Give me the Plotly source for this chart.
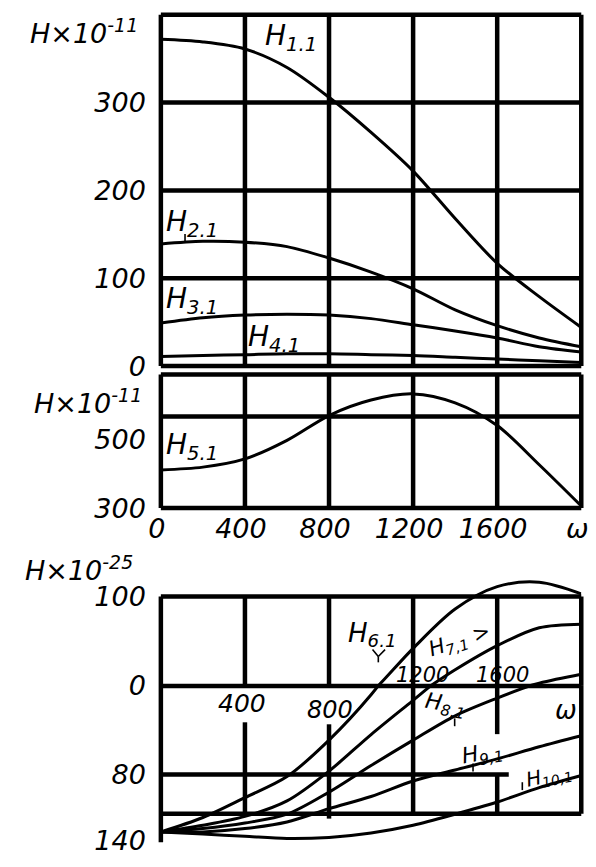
import plotly.graph_objects as go

# ---------------- data ----------------
omega = [0, 200, 400, 600, 800, 1000, 1200, 1400, 1600, 1800, 2000]

# top panel, H x 10^-11
h1_1 = [372, 369, 361, 340, 306, 266, 222, 168, 117, 79, 44]
h2_1 = [139, 142, 141, 136, 123, 107, 88, 64, 46, 32, 22]
h3_1 = [49, 55, 58, 59, 58, 54, 47, 40, 32, 22, 16]
h4_1 = [11, 12, 13, 14, 14, 13, 12, 10, 8, 6, 4]

# middle panel, H x 10^-11
h5_1 = [411, 419, 443, 497, 569, 614, 632, 606, 540, 426, 306]

# bottom panel, H x 10^-25 (values below the omega axis are negative)
h6_1 = [-132, -119, -101, -82, -49, -8, 42, 86, 111, 116, 103]
h7_1 = [-132, -126, -118, -104, -77, -44, -13, 18, 45, 65, 69]
h8_1 = [-132, -129, -124, -116, -96, -72, -49, -27, -11, 3, 13]
h9_1 = [-132, -132, -129, -123, -111, -100, -86, -76, -66, -55, -45]
h10_1 = [-132, -134, -136, -138, -137, -133, -126, -116, -105, -92, -81]

x_tick_vals = [0, 400, 800, 1200, 1600, 2000]
x_tick_text = ["0", "400", "800", "1200", "1600", "ω"]
top_tick_vals = [0, 100, 200, 300]
top_tick_text = ["0", "100", "200", "300"]
mid_tick_vals = [300, 500]
mid_tick_text = ["300", "500"]
bot_up_tick_vals = [0, 100]
bot_up_tick_text = ["0", "100"]
bot_low_tick_vals = [-80, -140]
bot_low_tick_text = ["80", "140"]

# ---------------- layout geometry (pixels) ----------------
W, H = 596, 867
X0, X1 = 153, 588
XMAX = 2000
# (top_px, bottom_px, value_at_bottom, value_at_top)
P1 = (15, 372.5, 0, 400)
P2 = (381, 517, 300, 688.6)
P3U = (588, 698, 0, 120.9)
P3L = (698, 857, -141.3, 0)

FONT = "DejaVu Sans, Arial, sans-serif"
INK = "black"
LW = 4.5


def dom_x():
    return [X0 / W, X1 / W]


def dom_y(p):
    return [1 - p[1] / H, 1 - p[0] / H]


def fx(v):
    return (X0 + (X1 - X0) * v / XMAX) / W


def fy(p, v):
    top, bot, vmin, vmax = p
    py = bot - (v - vmin) / (vmax - vmin) * (bot - top)
    return 1 - py / H


def px_x(px):
    return px / W


def px_y(py):
    return 1 - py / H


fig = go.Figure()

curve = dict(color=INK, width=3, shape="spline", smoothing=0.9)

for ys in (h1_1, h2_1, h3_1, h4_1):
    fig.add_trace(go.Scatter(x=omega, y=ys, mode="lines", line=curve,
                             xaxis="x", yaxis="y", showlegend=False, hoverinfo="skip"))
fig.add_trace(go.Scatter(x=omega, y=h5_1, mode="lines", line=curve,
                         xaxis="x2", yaxis="y2", showlegend=False, hoverinfo="skip"))
for ys in (h6_1, h7_1, h8_1, h9_1, h10_1):
    for xa, ya in (("x3", "y3"), ("x4", "y4")):
        fig.add_trace(go.Scatter(x=omega, y=ys, mode="lines", line=curve,
                                 xaxis=xa, yaxis=ya, showlegend=False, hoverinfo="skip"))

# ---------------- grid / frame lines ----------------
shapes = []


def seg(x0, y0, x1, y1, w=LW):
    shapes.append(dict(type="line", xref="paper", yref="paper",
                       x0=x0, y0=y0, x1=x1, y1=y1,
                       line=dict(color=INK, width=w), layer="above"))


# top panel
for v in x_tick_vals:
    seg(fx(v), fy(P1, 400), fx(v), fy(P1, 0))
for v in [0, 100, 200, 300, 400]:
    seg(fx(0), fy(P1, v), fx(XMAX), fy(P1, v))

# middle panel
for v in x_tick_vals:
    seg(fx(v), fy(P2, P2[3]), fx(v), fy(P2, P2[2]))
for v in [P2[3], 566, P2[2]]:
    seg(fx(0), fy(P2, v), fx(XMAX), fy(P2, v))

# bottom panel (partly drawn frame, as in the original)
BOT_EDGE = -115.6
seg(fx(0), fy(P3U, 100), fx(0), fy(P3L, P3L[2]))
for v in [400, 800, 1200, 1600, 2000]:
    seg(fx(v), fy(P3U, 100), fx(v), fy(P3U, 0))
lower_vertical = [(400, -32.9, BOT_EDGE), (800, -34.7, -120), (1200, 0, BOT_EDGE),
                  (1600, 0, -43.6), (1600, -80, BOT_EDGE), (2000, 0, BOT_EDGE)]
for v, a, b in lower_vertical:
    seg(fx(v), fy(P3L, a), fx(v), fy(P3L, b))
seg(fx(0), fy(P3U, 100), fx(XMAX), fy(P3U, 100))
seg(fx(0), fy(P3U, 0), fx(XMAX), fy(P3U, 0))
seg(fx(0), fy(P3L, -80), fx(1655), fy(P3L, -80))
seg(fx(0), fy(P3L, BOT_EDGE), fx(XMAX), fy(P3L, BOT_EDGE))

# small leader marks next to the curve labels (pixel positions)
leaders = [(178, 238, 178, 246), (457, 731, 457, 739), (476, 777, 476, 785),
           (527, 796, 527, 804), (372, 661, 378, 668), (385, 661, 378, 668),
           (378, 668, 378, 674)]
for a, b, c, d in leaders:
    seg(px_x(a), px_y(b), px_x(c), px_y(d), w=1.6)

# ---------------- axes ----------------
tickfont = dict(family=FONT, size=27, color=INK, style="italic")


def xaxis(anchor, show=False):
    d = dict(domain=dom_x(), range=[0, XMAX], anchor=anchor, showgrid=False,
             zeroline=False, showline=False, fixedrange=True)
    if show:
        d.update(tickmode="array", tickvals=x_tick_vals, ticktext=x_tick_text,
                 ticks="", tickfont=tickfont, ticklabelstandoff=2,
                 ticklabelshift=-4)
    else:
        d.update(showticklabels=False, ticks="")
    return d


def yaxis(anchor, p, vals, text):
    return dict(domain=dom_y(p), range=[p[2], p[3]], anchor=anchor, showgrid=False,
                zeroline=False, showline=False, fixedrange=True,
                tickmode="array", tickvals=vals, ticktext=text, ticks="",
                tickfont=tickfont, ticklabelstandoff=14)


# ---------------- text ----------------
ann = []


def text(x, y, s, size=27, anchor="left", angle=0):
    ann.append(dict(x=x / W, y=px_y(y), xref="paper", yref="paper", text=s,
                    showarrow=False, xanchor=anchor, yanchor="middle", textangle=angle,
                    font=dict(family=FONT, size=size, color=INK, style="italic")))


text(16, 32, "H×10<sup>-11</sup>", 27)
text(20, 409, "H×10<sup>-11</sup>", 27)
text(10, 578, "H×10<sup>-25</sup>", 27)

text(259, 38, "H<sub>1.1</sub>", 28)
text(156, 227, "H<sub>2.1</sub>", 28)
text(156, 306, "H<sub>3.1</sub>", 28)
text(241, 344, "H<sub>4.1</sub>", 28)
text(156, 454, "H<sub>5.1</sub>", 28)
text(345, 646, "H<sub>6.1</sub>", 26)
text(462, 652, "H<sub>7,1</sub> >", 21, "center", -18)
text(447, 718, "H<sub>8,1</sub>", 22, "center", 10)
text(486, 768, "H<sub>9,1</sub>", 22, "center", -10)
text(555, 790, "H<sub>10,1</sub>", 20, "center", -12)

text(237, 716, "400", 25, "center")
text(328, 722, "800", 24, "center")
text(424, 687, "1200", 21, "center")
text(507, 687, "1600", 21, "center")
text(572, 722, "ω", 26, "center")

fig.update_layout(
    width=W, height=H, margin=dict(l=0, r=0, t=0, b=0),
    paper_bgcolor="white", plot_bgcolor="rgba(0,0,0,0)",
    showlegend=False, shapes=shapes, annotations=ann,
    xaxis=xaxis("y"), yaxis=yaxis("x", P1, top_tick_vals, top_tick_text),
    xaxis2=xaxis("y2", True), yaxis2=yaxis("x2", P2, mid_tick_vals, mid_tick_text),
    xaxis3=xaxis("y3"), yaxis3=yaxis("x3", P3U, bot_up_tick_vals, bot_up_tick_text),
    xaxis4=xaxis("y4"), yaxis4=yaxis("x4", P3L, bot_low_tick_vals, bot_low_tick_text),
)

fig.write_html("out.html", config={"displayModeBar": False},
               post_script="document.body.style.margin='0';document.body.style.padding='0';")
